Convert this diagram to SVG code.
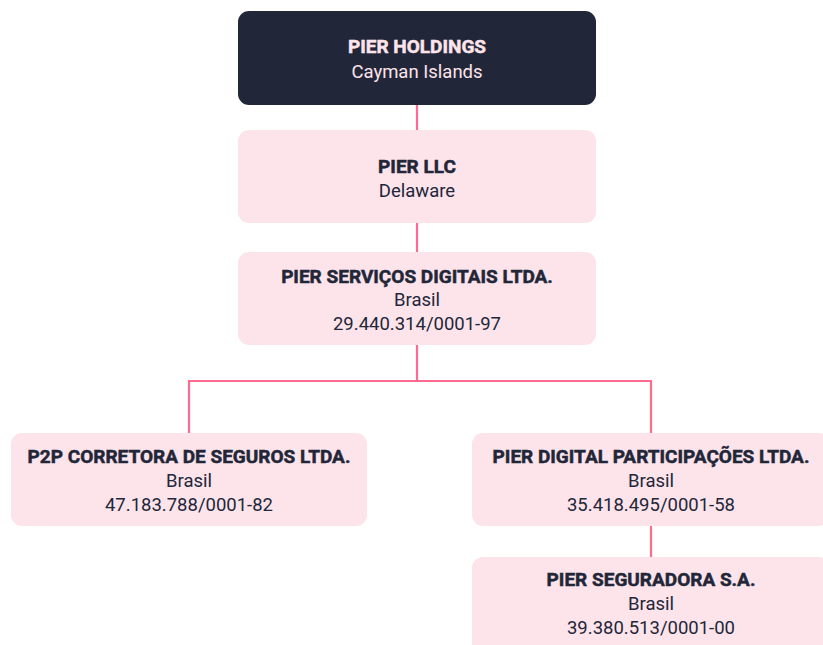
<svg xmlns="http://www.w3.org/2000/svg" width="823" height="645" viewBox="0 0 823 645">
<style>
.box{fill:#fde4ea}
.dark{fill:#222639}
.t{font-family:Roboto,"Liberation Sans",sans-serif;font-size:19px;font-weight:700;text-anchor:middle;fill:#222639;stroke:#222639;stroke-width:0.5}
.s{font-family:Roboto,"Liberation Sans",sans-serif;font-size:18.5px;font-weight:400;text-anchor:middle;fill:#222639}
.lt{fill:#fde4ea;stroke:#fde4ea}
.s.lt{stroke:none}
.c{stroke:#ff6b8f;stroke-width:2.2;fill:none}
</style>
<rect width="823" height="645" fill="#ffffff"/>
<g id="connectors">
<path class="c" d="M417 105V130M417 223V252M417 345V381M189 433V381H651V433M651 526V557"/>
</g>
<g id="pier-holdings">
<rect class="dark" x="238" y="11" width="358" height="94" rx="11"/>
<text class="t lt" x="417" y="53">PIER HOLDINGS</text>
<text class="s lt" x="417" y="78">Cayman Islands</text>
</g>
<g id="pier-llc">
<rect class="box" x="238" y="130" width="358" height="93" rx="11"/>
<text class="t" x="417" y="173">PIER LLC</text>
<text class="s" x="417" y="197">Delaware</text>
</g>
<g id="pier-servicos">
<rect class="box" x="238" y="252" width="358" height="93" rx="11"/>
<text class="t" x="417" y="283">PIER SERVIÇOS DIGITAIS LTDA.</text>
<text class="s" x="417" y="306">Brasil</text>
<text class="s" x="417" y="330">29.440.314/0001-97</text>
</g>
<g id="p2p">
<rect class="box" x="11" y="433" width="356" height="93" rx="11"/>
<text class="t" x="189" y="463">P2P CORRETORA DE SEGUROS LTDA.</text>
<text class="s" x="189" y="487">Brasil</text>
<text class="s" x="189" y="511">47.183.788/0001-82</text>
</g>
<g id="pier-digital">
<rect class="box" x="472" y="433" width="358" height="93" rx="11"/>
<text class="t" x="651" y="463">PIER DIGITAL PARTICIPAÇÕES LTDA.</text>
<text class="s" x="651" y="487">Brasil</text>
<text class="s" x="651" y="511">35.418.495/0001-58</text>
</g>
<g id="pier-seguradora">
<rect class="box" x="472" y="557" width="358" height="100" rx="11"/>
<text class="t" x="651" y="586">PIER SEGURADORA S.A.</text>
<text class="s" x="651" y="610">Brasil</text>
<text class="s" x="651" y="634">39.380.513/0001-00</text>
</g>
</svg>
